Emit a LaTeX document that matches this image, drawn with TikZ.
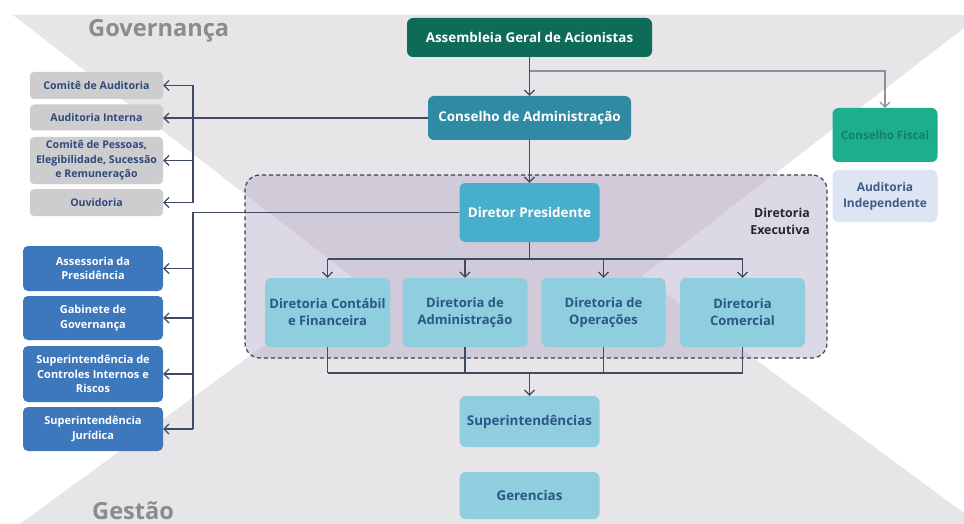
\documentclass[tikz,border=0pt]{standalone}
\usepackage{fontspec}
\setmainfont{Open Sans}
\usetikzlibrary{arrows.meta}
\definecolor{bggray}{HTML}{E7E5E7}
\definecolor{execfill}{HTML}{B4AAC8}
\definecolor{execline}{HTML}{3A3F55}
\definecolor{asmgreen}{HTML}{0E6B57}
\definecolor{cadmteal}{HTML}{2E8BA3}
\definecolor{fiscgreen}{HTML}{1DAE8C}
\definecolor{fisctext}{HTML}{157F68}
\definecolor{audfill}{HTML}{DDE4F3}
\definecolor{audtext}{HTML}{3E5C86}
\definecolor{dpblue}{HTML}{47AFCB}
\definecolor{dirfill}{HTML}{8FCEDE}
\definecolor{dirtext}{HTML}{2B5685}
\definecolor{govfill}{HTML}{CDCDCF}
\definecolor{govtext}{HTML}{2F4A7A}
\definecolor{gesfill}{HTML}{3D78BD}
\definecolor{linecol}{HTML}{3F4A63}
\definecolor{lightline}{HTML}{8E9099}
\definecolor{headgray}{HTML}{8C8C8C}
\tikzset{
  box/.style={rectangle, rounded corners=6pt, inner sep=0pt, align=center, font=\bfseries},
  bigtxt/.style={font=\bfseries\fontsize{13.4}{16}\selectfont},
  dirtxt/.style={font=\bfseries\fontsize{13}{17}\selectfont},
  smalltxt/.style={font=\bfseries\fontsize{10.6}{14.5}\selectfont},
  bluetxt/.style={font=\bfseries\fontsize{11}{14.3}\selectfont},
  asmbox/.style={box, bigtxt, fill=asmgreen, text=white},
  cadmbox/.style={box, bigtxt, fill=cadmteal, text=white},
  fiscbox/.style={box, fill=fiscgreen, text=fisctext, font=\bfseries\fontsize{11.6}{14}\selectfont},
  audbox/.style={box, fill=audfill, text=audtext, font=\bfseries\fontsize{12}{16}\selectfont},
  dpbox/.style={box, bigtxt, fill=dpblue, text=white},
  dirbox/.style={box, dirtxt, fill=dirfill, text=dirtext},
  lowbox/.style={box, bigtxt, fill=dirfill, text=dirtext},
  govbox/.style={box, smalltxt, rounded corners=4pt, fill=govfill, text=govtext},
  gesbox/.style={box, bluetxt, rounded corners=5pt, fill=gesfill, text=white},
  conn/.style={draw=linecol, line width=1.2pt},
  lconn/.style={draw=lightline, line width=1.2pt},
  arr/.style={-{Straight Barb[length=5pt,width=10pt]}},
  heading/.style={font=\bfseries\fontsize{23.6}{28}\selectfont, text=headgray, inner sep=0pt},
}
\begin{document}
\begin{tikzpicture}[x=1pt,y=-1pt]
\useasboundingbox (0,0) rectangle (964,524);
\fill[white] (0,0) rectangle (964,524);
% background
\fill[bggray] (13,15) -- (964,15) -- (964,28) -- (642,276) -- (964,513) -- (964,524) -- (20,524) -- (355,279) -- cycle;
% executive group box
\node[rectangle, rounded corners=15pt, minimum width=582pt, minimum height=183pt, fill=execfill, fill opacity=0.45, draw=execline, draw opacity=1, line width=1.2pt, dash pattern=on 4pt off 3pt] (dexec) at (536,266.5) {};
\node[anchor=north east, align=right, inner sep=0pt, font=\bfseries\fontsize{12.4}{17}\selectfont, text=black!85] (dexlbl) at (810,208) {Diretoria\\Executiva};
% headings
\node[heading, anchor=base west] (hgov) at (88,37) {Governança};
\node[heading, anchor=base west] (hges) at (92,519) {Gestão};
% top nodes
\node[asmbox, minimum width=245pt, minimum height=39pt] (asm) at (529.5,37.5) {Assembleia Geral de Acionistas};
\node[cadmbox, minimum width=203pt, minimum height=44pt] (cadm) at (529.5,118) {Conselho de Administração};
\node[fiscbox, minimum width=105pt, minimum height=54pt] (cfis) at (885,135) {Conselho Fiscal};
\node[audbox, minimum width=105pt, minimum height=52pt] (audi) at (885,196) {Auditoria\\Independente};
\node[dpbox, minimum width=140pt, minimum height=59pt] (dp) at (529.5,212.5) {Diretor Presidente};
% diretorias
\node[dirbox, minimum width=125pt, minimum height=69pt] (d1) at (327.5,312.5) {Diretoria Contábil\\e Financeira};
\node[dirbox, minimum width=125pt, minimum height=69pt] (d2) at (465,312.5) {Diretoria de\\Administração};
\node[dirbox, minimum width=124pt, minimum height=69pt] (d3) at (603.5,312.5) {Diretoria de\\Operações};
\node[dirbox, minimum width=125pt, minimum height=69pt] (d4) at (742.5,312.5) {Diretoria\\Comercial};
\node[lowbox, minimum width=140pt, minimum height=51pt] (sup) at (529.5,421.5) {Superintendências};
\node[lowbox, minimum width=140pt, minimum height=47pt] (ger) at (529.5,495.5) {Gerencias};
% governance side boxes
\node[govbox, minimum width=133pt, minimum height=27pt] (g1) at (96.5,85.5) {Comitê de Auditoria};
\node[govbox, minimum width=133pt, minimum height=26pt] (g2) at (96.5,117.5) {Auditoria Interna};
\node[govbox, minimum width=133pt, minimum height=47pt] (g3) at (96.5,160.5) {Comitê de Pessoas,\\Elegibilidade, Sucessão\\e Remuneração};
\node[govbox, minimum width=133pt, minimum height=27pt] (g4) at (96.5,202.5) {Ouvidoria};
% management side boxes
\node[gesbox, minimum width=140pt, minimum height=45pt] (b1) at (93,268.5) {Assessoria da\\Presidência};
\node[gesbox, minimum width=140pt, minimum height=44pt] (b2) at (93,318) {Gabinete de\\Governança};
\node[gesbox, minimum width=140pt, minimum height=56pt] (b3) at (93,374) {Superintendência de\\Controles Internos e\\Riscos};
\node[gesbox, minimum width=140pt, minimum height=44pt] (b4) at (93,429) {Superintendência\\Jurídica};
% helper coordinates
\coordinate (busA) at (193,0);
\coordinate (fb) at (529.5,71);
\coordinate (tbar) at (0,259);
\coordinate (bbar) at (0,373);
% connectors
\draw[conn, arr] (asm.south) -- (cadm.north);
\draw[lconn, arr] (fb) -| (cfis.north);
\draw[conn, arr] (cadm.west) -- (cadm.west -| g2.east);
\draw[conn] (g1.east -| busA) -- (g4.east -| busA);
\draw[conn, arr] (g1.east -| busA) -- (g1.east);
\draw[conn, arr] (g3.east -| busA) -- (g3.east);
\draw[conn, arr] (g4.east -| busA) -- (g4.east);
\draw[conn, arr] (cadm.south) -- (dp.north);
\draw[conn] (dp.west) -| (b4.east -| busA);
\draw[conn, arr] (b1.east -| busA) -- (b1.east);
\draw[conn, arr] (b2.east -| busA) -- (b2.east);
\draw[conn, arr] (b3.east -| busA) -- (b3.east);
\draw[conn, arr] (b4.east -| busA) -- (b4.east);
\draw[conn] (dp.south) -- (dp.south |- tbar);
\draw[conn] (d1.north |- tbar) -- (d4.north |- tbar);
\foreach \d in {d1,d2,d3,d4} {
  \draw[conn, arr] (\d.north |- tbar) -- (\d.north);
  \draw[conn] (\d.south) -- (\d.south |- bbar);
}
\draw[conn] (d1.south |- bbar) -- (d4.south |- bbar);
\draw[conn, arr] (sup.north |- bbar) -- (sup.north);
\end{tikzpicture}
\end{document}
